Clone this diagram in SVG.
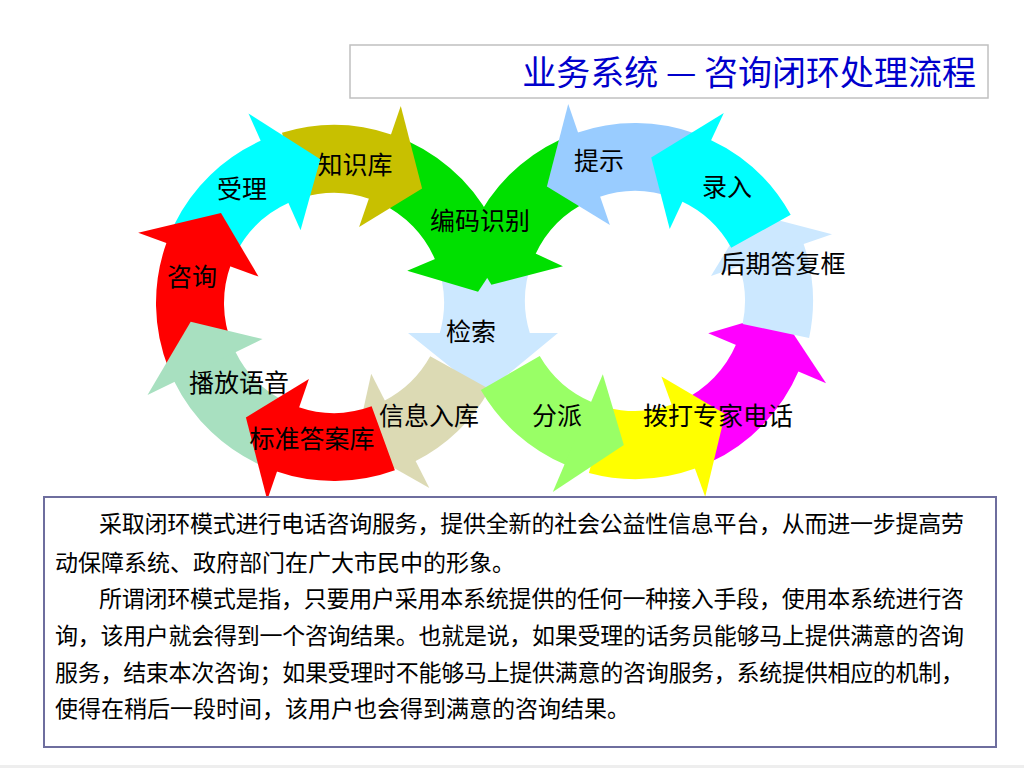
<svg xmlns="http://www.w3.org/2000/svg" width="1024" height="768" viewBox="0 0 1024 768">
<style>
.band{fill:none;stroke-width:68}
.lbl{font-family:"Noto Sans CJK SC","Noto Sans",sans-serif;font-size:25px;fill:#000;text-anchor:middle}
.body{font-family:"Noto Sans CJK SC","Noto Sans",sans-serif;font-size:23px;fill:#000}
.ttl{font-family:"Noto Sans CJK SC","Noto Sans",sans-serif;font-size:34px;fill:#0000CC;text-anchor:end}
</style>
<defs>
<polygon id="hcw" points="80,-1 208,-1 137,46"/>
<polygon id="hccw" points="80,1 208,1 137,-46"/>
</defs>
<rect width="1024" height="768" fill="#FFFFFF"/>
<rect x="0" y="765" width="1024" height="3" fill="#EEEEEE"/>

<g id="title">
<rect x="350" y="45" width="638" height="53" fill="#FFFFFF" stroke="#C0C0C0" stroke-width="1.5"/>
<text class="ttl" x="976" y="85">业务系统 — 咨询闭环处理流程</text>
</g>

<g id="connectors"></g>

<g id="jiansuo">
<path d="M436.1,262 L532.1,262 A110 110 0 0 0 529.8,333 L558,333 L484,394 L408,333 L439.8,333 A110 110 0 0 0 436.1,262 Z" fill="#CCE8FF"/>
<text class="lbl" x="471" y="341">检索</text>
</g>

<g id="bianma">
<circle class="band" r="144" stroke="#00E000" stroke-dasharray="105.56 2000" transform="translate(334,303) rotate(295)"/>
<use href="#hcw" fill="#00E000" transform="translate(334,303) rotate(337)"/>
<circle class="band" r="144" stroke="#00E000" stroke-dasharray="100.53 2000" transform="translate(635,301) rotate(205)"/>
<use href="#hccw" fill="#00E000" transform="translate(635,301) rotate(205)"/>
<text class="lbl" x="480" y="230">编码识别</text>
</g>

<g id="zhishiku">
<circle class="band" r="144" stroke="#C8C000" stroke-dasharray="90.48 2000" transform="translate(334,303) rotate(253)"/>
<use href="#hcw" fill="#C8C000" transform="translate(334,303) rotate(289)"/>
<text class="lbl" x="355" y="174">知识库</text>
</g>

<g id="tishi">
<circle class="band" r="144" stroke="#99CCFF" stroke-dasharray="98.02 2000" transform="translate(635,301) rotate(251)"/>
<use href="#hccw" fill="#99CCFF" transform="translate(635,301) rotate(251)"/>
<text class="lbl" x="599" y="170">提示</text>
</g>

<g id="shouli">
<circle class="band" r="144" stroke="#00FFFF" stroke-dasharray="100.53 2000" transform="translate(334,303) rotate(206)"/>
<use href="#hcw" fill="#00FFFF" transform="translate(334,303) rotate(246)"/>
<text class="lbl" x="242" y="198">受理</text>
</g>

<g id="zixun">
<circle class="band" r="144" stroke="#FF0000" stroke-dasharray="105.56 2000" transform="translate(334,303) rotate(158)"/>
<use href="#hcw" fill="#FF0000" transform="translate(334,303) rotate(200)"/>
<text class="lbl" x="192" y="286">咨询</text>
</g>

<g id="bofangyuyin">
<circle class="band" r="144" stroke="#A8E0C0" stroke-dasharray="103.04 2000" transform="translate(334,303) rotate(113)"/>
<use href="#hcw" fill="#A8E0C0" transform="translate(334,303) rotate(154)"/>
<text class="lbl" x="239" y="392">播放语音</text>
</g>

<g id="xinxiruku">
<circle class="band" r="144" stroke="#DCDAB4" stroke-dasharray="85.45 2000" transform="translate(334,303) rotate(29)"/>
<use href="#hcw" fill="#DCDAB4" transform="translate(334,303) rotate(63)"/>
<text class="lbl" x="429" y="425">信息入库</text>
</g>

<g id="biaozhundaanku">
<circle class="band" r="144" stroke="#FF0000" stroke-dasharray="98.02 2000" transform="translate(334,303) rotate(70)"/>
<use href="#hcw" fill="#FF0000" transform="translate(334,303) rotate(109)"/>
<text class="lbl" x="312" y="448">标准答案库</text>
</g>

<g id="magenta">
<circle class="band" r="144" stroke="#FF00FF" stroke-dasharray="105.56 2000" transform="translate(635,301) rotate(23)"/>
<use href="#hccw" fill="#FF00FF" transform="translate(635,301) rotate(23)"/>
</g>

<g id="houqidafukuang">
<circle class="band" r="144" stroke="#CCE8FF" stroke-dasharray="77.91 2000" transform="translate(635,301) rotate(341)"/>
<use href="#hccw" fill="#CCE8FF" transform="translate(635,301) rotate(341)"/>
<text class="lbl" x="783" y="273">后期答复框</text>
</g>

<g id="luru">
<circle class="band" r="144" stroke="#00FFFF" stroke-dasharray="90.48 2000" transform="translate(635,301) rotate(295)"/>
<use href="#hccw" fill="#00FFFF" transform="translate(635,301) rotate(295)"/>
<text class="lbl" x="727" y="196">录入</text>
</g>

<g id="bodazhuanjia">
<circle class="band" r="144" stroke="#FFFF00" stroke-dasharray="87.96 2000" transform="translate(635,301) rotate(70)"/>
<use href="#hccw" fill="#FFFF00" transform="translate(635,301) rotate(70)"/>
<text class="lbl" x="718" y="425">拨打专家电话</text>
</g>

<g id="fenpai">
<circle class="band" r="144" stroke="#99FF66" stroke-dasharray="92.99 2000" transform="translate(635,301) rotate(113)"/>
<use href="#hccw" fill="#99FF66" transform="translate(635,301) rotate(113)"/>
<text class="lbl" x="557" y="425">分派</text>
</g>

<g id="description">
<rect x="44" y="497" width="952" height="250" fill="#FFFFFF" stroke="#6E6E9E" stroke-width="2"/>
<text class="body" x="99" y="532" textLength="865" lengthAdjust="spacing">采取闭环模式进行电话咨询服务，提供全新的社会公益性信息平台，从而进一步提高劳</text>
<text class="body" x="55" y="571">动保障系统、政府部门在广大市民中的形象。</text>
<text class="body" x="99" y="607" textLength="865" lengthAdjust="spacing">所谓闭环模式是指，只要用户采用本系统提供的任何一种接入手段，使用本系统进行咨</text>
<text class="body" x="55" y="644" textLength="909" lengthAdjust="spacing">询，该用户就会得到一个咨询结果。也就是说，如果受理的话务员能够马上提供满意的咨询</text>
<text class="body" x="55" y="681" textLength="909" lengthAdjust="spacing">服务，结束本次咨询；如果受理时不能够马上提供满意的咨询服务，系统提供相应的机制，</text>
<text class="body" x="55" y="717">使得在稍后一段时间，该用户也会得到满意的咨询结果。</text>
</g>
</svg>
